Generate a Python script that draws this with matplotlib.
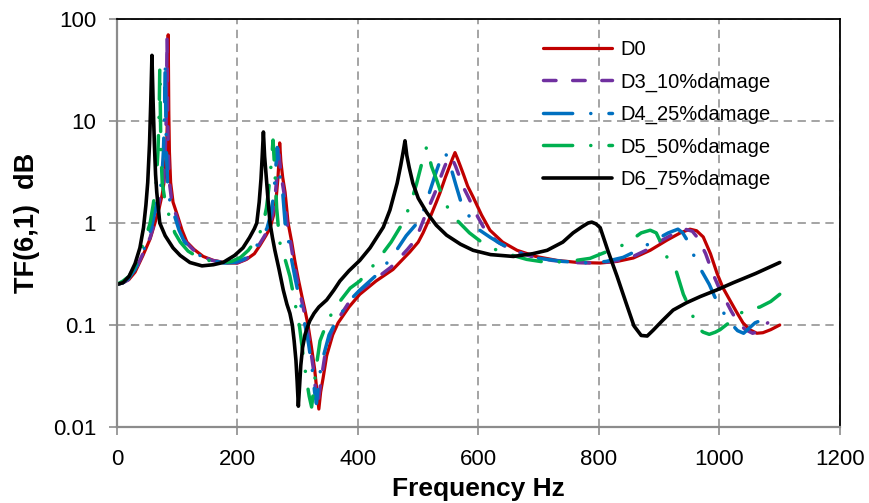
import matplotlib
matplotlib.use("Agg")
import matplotlib.pyplot as plt

plt.rcParams['font.family'] = ['Liberation Sans', 'DejaVu Sans']
plt.rcParams['lines.scale_dashes'] = False

labels = ["D0", "D3_10%damage", "D4_25%damage", "D5_50%damage", "D6_75%damage"]
x_ticks = [0, 200, 400, 600, 800, 1000, 1200]
y_ticks = [0.01, 0.1, 1, 10, 100]
y_tick_labels = ["0.01", "0.1", "1", "10", "100"]

d0_f = [0, 10, 20, 30, 43, 55, 63, 70, 75, 78, 82, 84, 85, 86, 87, 89, 93, 100, 108, 116, 128,
        143, 160, 183, 200, 215, 228, 237, 247, 254, 260, 264, 267, 269, 270, 272, 275, 279,
        284, 290, 295, 301, 307, 312, 317, 322, 328, 332, 335, 338, 342, 348, 358, 367, 385,
        403, 430, 458, 486, 500, 508, 520, 530, 536, 545, 552, 557, 561, 565, 570, 575, 582,
        591, 605, 619, 640, 664, 695, 730, 765, 802, 830, 857, 885, 913, 935, 951, 962, 973,
        985, 996, 1006, 1017, 1028, 1039, 1050, 1062, 1072, 1085, 1100]
d0_v = [0.25, 0.26, 0.28, 0.33, 0.48, 0.7, 1.0, 1.4, 1.9, 2.5, 5, 12, 70, 12, 5, 2.5, 1.6, 1.2,
        0.85, 0.65, 0.55, 0.47, 0.43, 0.405, 0.405, 0.44, 0.5, 0.6, 0.75, 0.89, 1.2, 1.7, 2.7,
        4.2, 6.1, 4.0, 2.8, 2.0, 1.0, 0.65, 0.43, 0.28, 0.19, 0.14, 0.1, 0.065, 0.037, 0.022,
        0.015, 0.022, 0.03, 0.05, 0.08, 0.105, 0.15, 0.2, 0.27, 0.35, 0.52, 0.65, 0.8, 1.15,
        1.6, 1.97, 2.8, 3.6, 4.3, 4.9, 4.3, 3.6, 3.0, 2.3, 1.8, 1.2, 0.85, 0.65, 0.54, 0.47,
        0.43, 0.41, 0.405, 0.42, 0.454, 0.54, 0.68, 0.8, 0.87, 0.84, 0.73, 0.5, 0.32, 0.23,
        0.176, 0.135, 0.105, 0.09, 0.083, 0.084, 0.09, 0.1]

d3_f = [0, 10, 20, 30, 43, 55, 62, 69, 73, 77, 80, 82, 83, 84, 85, 87, 91, 98, 106, 114, 126,
        141, 158, 181, 198, 213, 226, 235, 245, 252, 258, 262, 265, 267, 268, 270, 273, 277,
        282, 288, 293, 299, 305, 310, 315, 320, 326, 330, 333, 336, 340, 346, 356, 365, 383,
        400, 428, 455, 482, 495, 502, 512, 521, 528, 537, 544, 549, 553, 557, 562, 567, 574,
        583, 597, 611, 632, 656, 688, 722, 758, 795, 822, 850, 878, 905, 927, 943, 955, 965,
        977, 988, 998, 1009, 1020, 1031, 1043, 1055, 1067, 1080]
d3_v = [0.25, 0.26, 0.28, 0.34, 0.5, 0.72, 1.0, 1.5, 2.0, 2.5, 5, 12, 65, 12, 5, 2.5, 1.6, 1.2,
        0.85, 0.65, 0.55, 0.47, 0.43, 0.405, 0.405, 0.44, 0.5, 0.6, 0.75, 0.89, 1.2, 1.7, 2.7,
        4.1, 6.0, 4.0, 2.8, 2.0, 1.0, 0.65, 0.43, 0.28, 0.19, 0.14, 0.1, 0.065, 0.037, 0.022,
        0.016, 0.022, 0.032, 0.055, 0.085, 0.11, 0.16, 0.21, 0.28, 0.37, 0.55, 0.68, 0.85, 1.2,
        1.6, 2.0, 2.8, 3.6, 4.2, 4.5, 4.2, 3.6, 3.0, 2.3, 1.8, 1.2, 0.85, 0.65, 0.54, 0.47, 0.43,
        0.41, 0.405, 0.42, 0.45, 0.54, 0.68, 0.8, 0.87, 0.83, 0.7, 0.5, 0.33, 0.24, 0.18, 0.135,
        0.105, 0.09, 0.083, 0.087, 0.105]

d4_f = [0, 10, 20, 30, 42, 53, 59, 65, 70, 74, 77, 79, 80, 81, 82, 84, 88, 95, 103, 112, 124,
        140, 157, 178, 195, 210, 223, 232, 242, 249, 255, 259, 262, 264, 266, 268, 271, 275,
        279, 285, 290, 296, 302, 307, 312, 318, 324, 328, 331, 334, 338, 342, 352, 365, 387,
        403, 431, 456, 480, 495, 503, 512, 522, 530, 537, 544, 549, 556, 563, 571, 583, 602,
        620, 636, 665, 700, 740, 785, 812, 840, 867, 893, 915, 931, 939, 945, 950, 956, 969,
        983, 992, 1001, 1015, 1030, 1040, 1059, 1083]
d4_v = [0.25, 0.26, 0.29, 0.35, 0.5, 0.75, 1.0, 1.5, 2.0, 2.5, 5, 12, 38, 12, 5, 2.5, 1.6, 1.2,
        0.85, 0.65, 0.55, 0.47, 0.43, 0.405, 0.41, 0.44, 0.5, 0.6, 0.75, 0.89, 1.2, 1.7, 2.6,
        3.8, 5.5, 3.8, 2.7, 2.0, 1.0, 0.65, 0.43, 0.28, 0.19, 0.14, 0.1, 0.065, 0.037, 0.022,
        0.017, 0.025, 0.037, 0.048, 0.08, 0.112, 0.176, 0.22, 0.31, 0.46, 0.75, 0.95, 1.07, 1.5,
        2.3, 3.2, 4.2, 5.0, 4.3, 3.2, 2.3, 1.6, 1.2, 0.85, 0.72, 0.63, 0.52, 0.45, 0.42, 0.405,
        0.42, 0.46, 0.55, 0.68, 0.8, 0.87, 0.8, 0.7, 0.6, 0.5, 0.35, 0.25, 0.19, 0.15, 0.11,
        0.088, 0.083, 0.105, 0.12]

d5_f = [0, 10, 20, 30, 40, 50, 55, 60, 63, 65, 68, 70, 71, 72, 73, 75, 80, 88, 96, 105, 118,
        135, 152, 173, 190, 205, 218, 228, 237, 243, 248, 252, 255, 257, 259, 261, 263, 265,
        270, 280, 287, 295, 303, 309, 315, 319, 323, 327, 331, 337, 347, 359, 373, 387, 403,
        420, 436, 455, 470, 480, 489, 497, 503, 508, 514, 518, 522, 531, 540, 553, 564, 585,
        608, 628, 647, 680, 714, 750, 785, 815, 846, 870, 885, 895, 905, 915, 928, 940, 952,
        963, 973, 983, 993, 1001, 1020, 1042, 1067, 1085, 1100]
d5_v = [0.25, 0.27, 0.3, 0.38, 0.55, 0.8, 1.0, 1.5, 2.0, 2.5, 5, 12, 33, 12, 5, 2.5, 1.6, 1.1,
        0.8, 0.65, 0.53, 0.46, 0.43, 0.405, 0.42, 0.46, 0.54, 0.65, 0.8, 1.0, 1.4, 2.2, 3.3,
        4.5, 6.5, 4.0, 2.5, 1.4, 0.65, 0.42, 0.3, 0.17, 0.096, 0.05, 0.028, 0.02, 0.0157, 0.025,
        0.04, 0.07, 0.1, 0.14, 0.18, 0.23, 0.27, 0.35, 0.46, 0.65, 0.91, 1.2, 1.67, 2.4, 3.3,
        4.3, 5.6, 4.5, 3.6, 2.6, 1.8, 1.27, 1.07, 0.8, 0.63, 0.55, 0.5, 0.44, 0.41, 0.42, 0.45,
        0.53, 0.63, 0.8, 0.85, 0.8, 0.6, 0.43, 0.34, 0.2, 0.14, 0.094, 0.085, 0.081, 0.085,
        0.09, 0.11, 0.14, 0.15, 0.17, 0.2]

d6_f = [0, 10, 20, 30, 38, 44, 48, 51, 54, 56, 58, 60, 62, 64, 66, 71, 80, 93, 105, 121, 141,
        160, 176, 195, 209, 220, 228, 232, 236, 239, 241, 243, 245, 248, 251, 254, 258, 262,
        269, 276, 282, 287, 291, 294, 297, 299, 301, 303, 305, 308, 312, 316, 320, 327,
        335, 348, 360, 370, 385, 403, 420, 442, 453, 465, 471, 475, 478, 481, 485, 491,
        500, 514, 530, 547, 570, 591, 620, 658, 690, 714, 740, 757, 772, 782, 788, 795, 802,
        815, 830, 845, 858, 870, 880, 890, 905, 923, 945, 968, 995, 1023, 1060, 1100]
d6_v = [0.25, 0.26, 0.3, 0.4, 0.57, 0.9, 1.5, 2.5, 6, 15, 44, 15, 6, 3.0, 2.0, 1.0, 0.75, 0.57,
        0.48, 0.41, 0.38, 0.39, 0.41, 0.48, 0.57, 0.72, 0.88, 1.0, 1.6, 2.7, 4.5, 7.8, 4.5, 2.7,
        1.6, 1.0, 0.72, 0.54, 0.35, 0.22, 0.16, 0.13, 0.1, 0.07, 0.045, 0.028, 0.016,
        0.025, 0.04, 0.06, 0.08, 0.095, 0.11, 0.13, 0.15, 0.176, 0.22, 0.27, 0.34, 0.43, 0.57,
        0.91, 1.34, 2.46, 3.7, 5.0, 6.4, 4.6, 3.5, 2.46, 1.75, 1.27, 0.95, 0.76, 0.62, 0.54,
        0.49, 0.47, 0.5, 0.54, 0.65, 0.8, 0.92, 1.0, 1.02, 0.98, 0.9, 0.53, 0.3, 0.164, 0.098,
        0.079, 0.078, 0.089, 0.11, 0.14, 0.165, 0.19, 0.22, 0.26, 0.32, 0.41]

colors = ["#C00000", "#7030A0", "#0070C0", "#00B050", "#000000"]

fig = plt.figure(figsize=(8.69, 5.03), dpi=100)
ax = fig.add_axes([117 / 869, 1 - 427 / 503, (840 - 117) / 869, (427 - 19) / 503])

series = [(d0_f, d0_v), (d3_f, d3_v), (d4_f, d4_v), (d5_f, d5_v), (d6_f, d6_v)]
styles = [
    dict(lw=2.3, ls='-'),
    dict(lw=2.5, ls=(0, (9, 12))),
    dict(lw=2.5, ls=(0, (21, 13, 0.1, 13))),
    dict(lw=2.5, ls=(0, (21, 13, 0.1, 13))),
    dict(lw=2.6, ls='-'),
]
for (f, v), c, st, lab in zip(series, colors, styles, labels):
    ax.plot(f, v, color=c, label=lab, dash_capstyle='round', solid_capstyle='round',
            solid_joinstyle='round', **st)

ax.set_yscale('log')
ax.set_xlim(0, 1200)
ax.set_ylim(0.01, 100)
ax.set_xticks(x_ticks)
ax.set_xticklabels([str(t) for t in x_ticks])
ax.set_yticks(y_ticks)
ax.set_yticklabels(y_tick_labels)
ax.minorticks_off()
ax.grid(True, color='#8c8c8c', linestyle=(0, (6, 4)), linewidth=1.1)
ax.set_axisbelow(True)

for s in ['left', 'bottom']:
    ax.spines[s].set_color('#8c8c8c')
    ax.spines[s].set_linewidth(1.6)
for s in ['top', 'right']:
    ax.spines[s].set_color('black')
    ax.spines[s].set_linewidth(1.3)

ax.tick_params(axis='both', which='major', direction='out', length=6, width=1.2,
               color='#8c8c8c', labelsize=16)
ax.tick_params(axis='x', pad=10)
ax.tick_params(axis='y', pad=9)

ax.set_xlabel('Frequency Hz', fontsize=19, fontweight='bold', labelpad=5)
ax.set_ylabel('TF(6,1)  dB', fontsize=19.5, fontweight='bold', labelpad=9)

leg = ax.legend(loc='upper left', bbox_to_anchor=(0.578, 0.968), frameon=False, fontsize=14.5,
                handlelength=3.45, labelspacing=0.66, handletextpad=0.4, borderaxespad=0)

fig.savefig('out.png', dpi=100)
